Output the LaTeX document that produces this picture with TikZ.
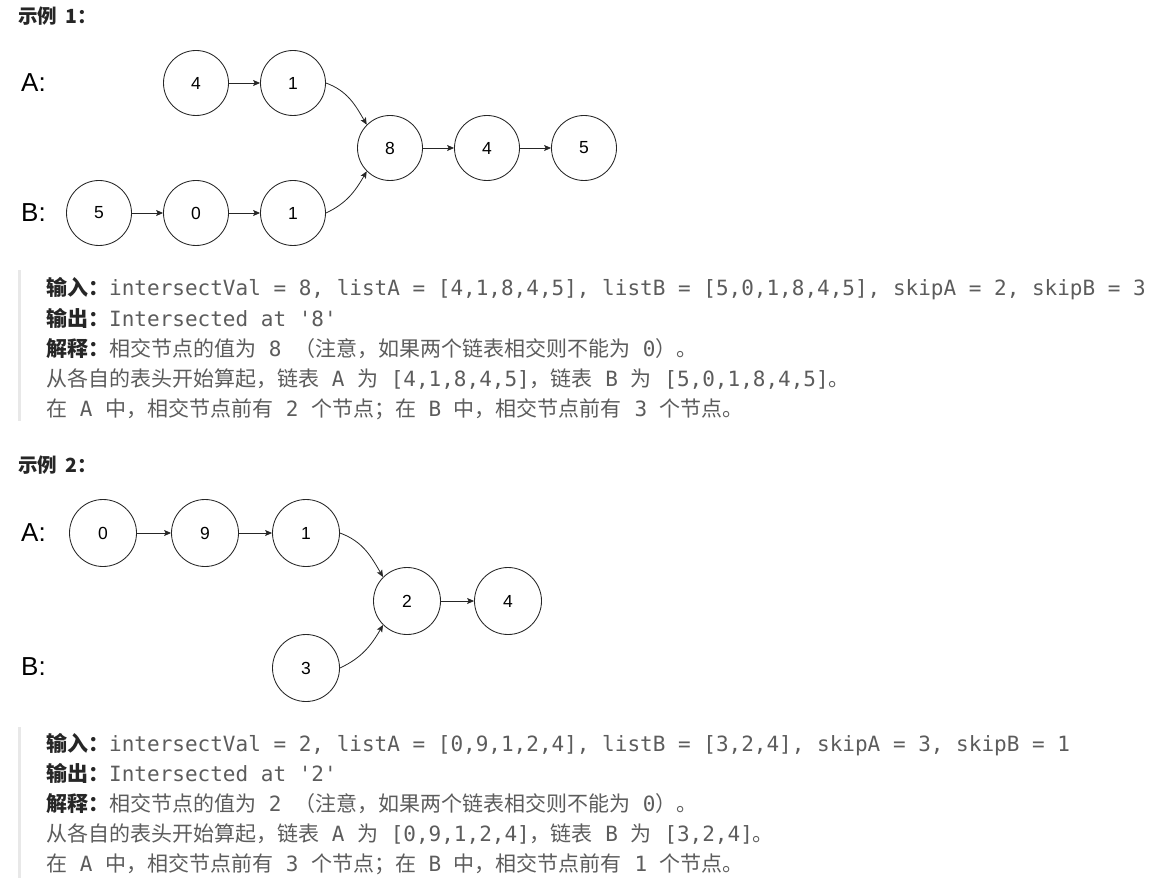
\documentclass[tikz,border=0pt]{standalone}
\usepackage{fontspec}
\usetikzlibrary{arrows.meta}
\newfontfamily\cj{Noto Sans CJK SC}
\newfontfamily\mo{DejaVu Sans Mono}
\newfontfamily\ar{Liberation Sans}
\definecolor{lab}{HTML}{262626}
\definecolor{body}{HTML}{5C5C5C}
\definecolor{barc}{HTML}{E8E8E8}
\definecolor{strk}{HTML}{262626}
\newcommand\txtsize{\fontsize{21pt}{25pt}\selectfont}
\newcommand\lb[1]{{\cj\bfseries\color{lab}#1}}
\tikzset{
  nd/.style={circle, draw=strk, line width=0.85pt, minimum size=65pt, inner sep=0pt, font=\ar\fontsize{17.5pt}{20pt}\selectfont},
  ndb/.style={nd, minimum size=67pt},
  arr/.style={-{Stealth[length=7pt,width=6pt,inset=1.5pt]}, line width=0.8pt, draw=strk},
  side/.style={anchor=west, inner sep=0pt, font=\ar\fontsize{26pt}{30pt}\selectfont},
  txt/.style={anchor=base west, inner sep=0pt, text=body, font=\txtsize},
  head/.style={anchor=base west, inner sep=0pt, text=lab, font=\cj\bfseries\fontsize{19.5pt}{22pt}\selectfont},
}
\begin{document}
\begin{tikzpicture}[x=1pt,y=-1pt]
\useasboundingbox (0,0) rectangle (1166,890);
% ---------- Example 1 ----------
\node[head] (h1) at (18,24) {示例\hspace{4pt} 1：};
\node[side] (la1) at (21,83) {A:};
\node[side] (lb1) at (21,213) {B:};
\node[nd] (a4) at (196,83) {4};
\node[nd] (a1) at (293,83) {1};
\node[nd] (c8) at (390,148) {8};
\node[nd] (c4) at (487,148) {4};
\node[nd] (c5) at (584,148) {5};
\node[nd] (b5) at (99,213) {5};
\node[nd] (b0) at (196,213) {0};
\node[nd] (b1) at (293,213) {1};
\draw[arr] (a4) -- (a1);
\draw[arr] (c8) -- (c4);
\draw[arr] (c4) -- (c5);
\draw[arr] (b5) -- (b0);
\draw[arr] (b0) -- (b1);
\draw[arr] (a1.east) to[out=-20,in=120] (c8.north west);
\draw[arr] (b1.east) to[out=25,in=-120] (c8.south west);
\fill[barc] (18,270) rectangle (21,421);
\node[txt] (e1l1) at (46,296) {\lb{输入：}{\mo intersectVal = 8, listA = [4,1,8,4,5], listB = [5,0,1,8,4,5], skipA = 2, skipB = 3}};
\node[txt] (e1l2) at (46,326) {\lb{输出：}{\mo Intersected at '8'}};
\node[txt] (e1l3) at (46,356) {\lb{解释：}{\cj 相交节点的值为}{\mo~8~}{\cj （注意，如果两个链表相交则不能为}{\mo~0}{\cj ）。}};
\node[txt] (e1l4) at (46,386) {{\cj 从各自的表头开始算起，链表}{\mo~A~}{\cj 为}{\mo~[4,1,8,4,5]}{\cj ，链表}{\mo~B~}{\cj 为}{\mo~[5,0,1,8,4,5]}{\cj 。}};
\node[txt] (e1l5) at (46,416) {{\cj 在}{\mo~A~}{\cj 中，相交节点前有}{\mo~2~}{\cj 个节点；在}{\mo~B~}{\cj 中，相交节点前有}{\mo~3~}{\cj 个节点。}};
% ---------- Example 2 ----------
\node[head] (h2) at (18,472) {示例\hspace{4pt} 2：};
\node[side] (la2) at (21,533) {A:};
\node[side] (lb2) at (21,667) {B:};
\node[ndb] (p0) at (103,533) {0};
\node[ndb] (p9) at (205,533) {9};
\node[ndb] (p1) at (306,533) {1};
\node[ndb] (q2) at (407,601) {2};
\node[ndb] (q4) at (508,601) {4};
\node[ndb] (r3) at (306,668) {3};
\draw[arr] (p0) -- (p9);
\draw[arr] (p9) -- (p1);
\draw[arr] (q2) -- (q4);
\draw[arr] (p1.east) to[out=-20,in=120] (q2.north west);
\draw[arr] (r3.east) to[out=25,in=-120] (q2.south west);
\fill[barc] (18,727) rectangle (21,878);
\node[txt] (e2l1) at (46,751) {\lb{输入：}{\mo intersectVal = 2, listA = [0,9,1,2,4], listB = [3,2,4], skipA = 3, skipB = 1}};
\node[txt] (e2l2) at (46,781) {\lb{输出：}{\mo Intersected at '2'}};
\node[txt] (e2l3) at (46,811) {\lb{解释：}{\cj 相交节点的值为}{\mo~2~}{\cj （注意，如果两个链表相交则不能为}{\mo~0}{\cj ）。}};
\node[txt] (e2l4) at (46,841) {{\cj 从各自的表头开始算起，链表}{\mo~A~}{\cj 为}{\mo~[0,9,1,2,4]}{\cj ，链表}{\mo~B~}{\cj 为}{\mo~[3,2,4]}{\cj 。}};
\node[txt] (e2l5) at (46,871) {{\cj 在}{\mo~A~}{\cj 中，相交节点前有}{\mo~3~}{\cj 个节点；在}{\mo~B~}{\cj 中，相交节点前有}{\mo~1~}{\cj 个节点。}};
\end{tikzpicture}
\end{document}
